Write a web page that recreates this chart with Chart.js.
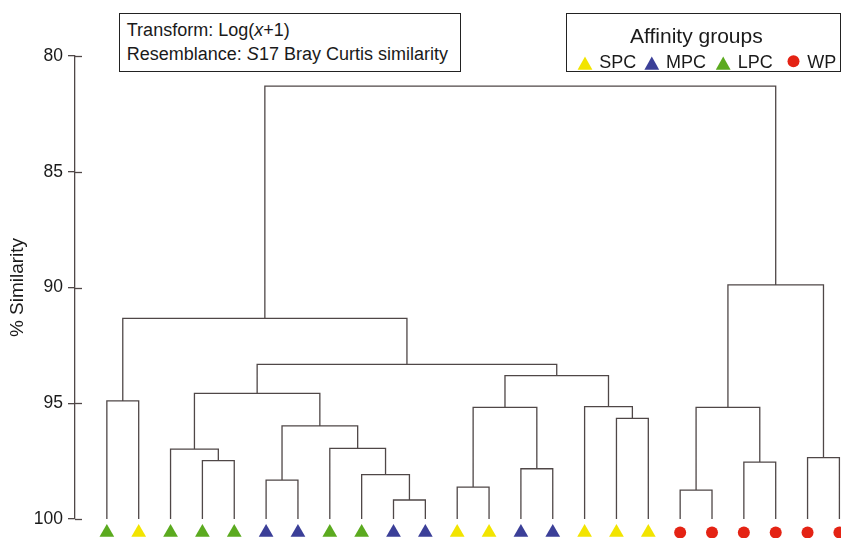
<!DOCTYPE html>
<html>
<head>
<meta charset="utf-8">
<script src="https://cdn.jsdelivr.net/npm/chart.js@4/dist/chart.umd.min.js"></script>
<style>
  html, body { margin: 0; padding: 0; background: #fff; }
  #wrap { position: relative; width: 841px; height: 538px; overflow: hidden; font-family: 'Liberation Sans', Arial, sans-serif; color: #1a1a1a; }
  #c { position: absolute; left: 0; top: 0; }
  #info { position: absolute; left: 118.5px; top: 12.5px; width: 342px; height: 59.5px; box-sizing: border-box;
          border: 1.5px solid #222; padding: 5.6px 0 0 7.3px; font-size: 18px; line-height: 23.5px; white-space: nowrap; background: #fff; }
  #legendBox { position: absolute; left: 566px; top: 12.5px; width: 275px; height: 59.5px; box-sizing: border-box;
          border: 1.5px solid #222; background: #fff; }
  .lg { position: absolute; white-space: nowrap; }
  #lgTitle { left: 630px; top: 24.5px; font-size: 21px; line-height: 21px; }
  .lgItem { top: 52.8px; font-size: 18px; line-height: 18px; }
  #lgSvg { position: absolute; left: 0; top: 0; }
</style>
</head>
<body>
<div id="wrap">
  <canvas id="c" width="841" height="538"></canvas>
  <div id="info">Transform: Log(<i>x</i>+1)<br>Resemblance: <i>S</i>17 Bray Curtis similarity</div>
  <div id="legendBox"></div>
  <div id="legendLayer"></div>
</div>
<script>
// ---------------- DATA ----------------
// leaf order (left to right) and the affinity group of each leaf
const leafGroups = ['LPC','SPC','LPC','LPC','LPC','MPC','MPC','LPC','LPC','MPC','MPC','SPC',
                    'SPC','MPC','MPC','SPC','SPC','SPC','WP','WP','WP','WP','WP','WP'];
// agglomeration steps: node ids 0..23 are leaves, merge k creates node 24+k
const mergeLeft  = [9, 18, 11, 5, 8, 13, 20, 3, 22, 2, 7, 27, 16, 26, 25, 15, 0, 33, 37, 41, 40, 38, 44];
const mergeRight = [10, 19, 12, 6, 24, 14, 21, 4, 23, 31, 28, 34, 17, 29, 30, 36, 1, 35, 39, 42, 43, 32, 45];
const mergeSimilarity = [99.18, 98.75, 98.62, 98.32, 98.08, 97.83, 97.54, 97.48, 97.35, 96.98, 96.95, 95.98,
                         95.65, 95.18, 95.18, 95.15, 94.90, 94.57, 93.81, 93.32, 91.33, 89.89, 81.30];
const yTickValues = [80, 85, 90, 95, 100];
const groupNames  = ['SPC', 'MPC', 'LPC', 'WP'];
const groupColors = ['#F2E400', '#3B3F98', '#5BAA1F', '#E42314'];
const groupShapes = ['triangle', 'triangle', 'triangle', 'circle'];

// ---------------- BUILD ----------------
const LEAF_LEVEL = 100;
const MARKER_LEVEL = 100.58;
const nLeaves = leafGroups.length;
const nodeX = [], nodeY = [];
for (let i = 0; i < nLeaves; i++) { nodeX.push(i); nodeY.push(LEAF_LEVEL); }
const linkPoints = [];
for (let k = 0; k < mergeLeft.length; k++) {
  const a = mergeLeft[k], b = mergeRight[k], h = mergeSimilarity[k];
  linkPoints.push({x: nodeX[a], y: nodeY[a]}, {x: nodeX[a], y: h}, {x: nodeX[b], y: h}, {x: nodeX[b], y: nodeY[b]});
  linkPoints.push({x: (nodeX[a] + nodeX[b]) / 2, y: null});
  nodeX.push((nodeX[a] + nodeX[b]) / 2);
  nodeY.push(h);
}
const LINE_COLOR = '#4f4747';
const datasets = [{
  label: 'links', type: 'line', data: linkPoints, borderColor: LINE_COLOR, borderWidth: 1.3,
  pointRadius: 0, pointHoverRadius: 0, spanGaps: false, tension: 0, fill: false,
  borderJoinStyle: 'miter', borderCapStyle: 'butt', clip: false, order: 2
}];
groupNames.forEach((g, gi) => {
  const pts = [];
  leafGroups.forEach((lg, i) => { if (lg === g) pts.push({x: i, y: MARKER_LEVEL}); });
  datasets.push({
    label: g, type: 'scatter', data: pts, showLine: false,
    pointStyle: groupShapes[gi], pointRadius: groupShapes[gi] === 'circle' ? 6 : 8.5,
    pointHoverRadius: 22, pointBackgroundColor: groupColors[gi], pointBorderWidth: 0,
    pointBorderColor: groupColors[gi], clip: false, order: 1
  });
});

// tick marks crossing the axis (right-hand half)
const crossTicks = {
  id: 'crossTicks',
  afterDraw(chart) {
    const s = chart.scales.y, ctx = chart.ctx;
    ctx.save();
    ctx.strokeStyle = LINE_COLOR; ctx.lineWidth = 1.3;
    s.ticks.forEach((t, i) => {
      const y = Math.round(s.getPixelForTick(i)) + 0.5;
      ctx.beginPath(); ctx.moveTo(s.right, y); ctx.lineTo(s.right + 7, y); ctx.stroke();
    });
    ctx.restore();
  }
};

Chart.defaults.font.family = "'Liberation Sans', Arial, sans-serif";
Chart.defaults.color = '#1a1a1a';
new Chart(document.getElementById('c'), {
  type: 'scatter',
  data: { datasets },
  options: {
    responsive: false, animation: false, events: [], devicePixelRatio: 1,
    layout: { autoPadding: false, padding: { top: 56, bottom: 19, left: 0, right: 0 } },
    plugins: { legend: { display: false }, tooltip: { enabled: false } },
    scales: {
      x: { type: 'linear', display: false, min: -1, max: 23.05 },
      y: {
        type: 'linear', reverse: true, min: 80, max: 100,
        afterFit(scale) { scale.width = 75; },
        afterBuildTicks(scale) { scale.ticks = yTickValues.map(v => ({value: v})); },
        ticks: { font: { size: 17.5 }, color: '#1a1a1a', padding: 5, callback: v => String(v) },
        grid: { drawOnChartArea: false, drawTicks: true, tickLength: 7, color: LINE_COLOR, lineWidth: 1.3 },
        border: { display: true, color: LINE_COLOR, width: 1.3 },
        title: { display: true, text: '% Similarity', font: { size: 19 }, color: '#1a1a1a', padding: { top: 6.5, bottom: 0 } }
      }
    }
  },
  plugins: [crossTicks]
});

// ---------------- LEGEND (HTML) ----------------
const layer = document.getElementById('legendLayer');
const svgNS = 'http://www.w3.org/2000/svg';
const svg = document.createElementNS(svgNS, 'svg');
svg.setAttribute('id', 'lgSvg'); svg.setAttribute('width', '841'); svg.setAttribute('height', '100');
layer.appendChild(svg);
const t = document.createElement('div');
t.className = 'lg'; t.id = 'lgTitle'; t.textContent = 'Affinity groups';
layer.appendChild(t);
const markerCx = [585, 651.8, 723.2, 793.5];
const textLeft = [599.3, 666, 737.7, 807.3];
groupNames.forEach((g, gi) => {
  const cx = markerCx[gi];
  let el;
  if (groupShapes[gi] === 'circle') {
    el = document.createElementNS(svgNS, 'circle');
    el.setAttribute('cx', cx); el.setAttribute('cy', 61.3); el.setAttribute('r', 6);
  } else {
    el = document.createElementNS(svgNS, 'polygon');
    el.setAttribute('points', `${cx - 7.4},69.7 ${cx + 7.4},69.7 ${cx},56.6`);
  }
  el.setAttribute('fill', groupColors[gi]);
  svg.appendChild(el);
  const d = document.createElement('div');
  d.className = 'lg lgItem'; d.style.left = textLeft[gi] + 'px'; d.textContent = g;
  layer.appendChild(d);
});
</script>
</body>
</html>
